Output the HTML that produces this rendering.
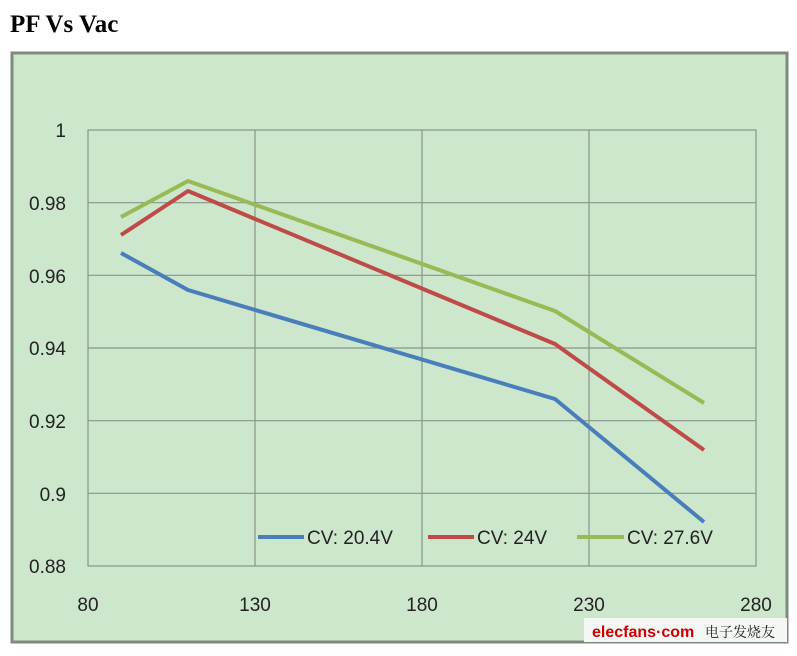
<!DOCTYPE html><html><head><style>body{margin:0;background:#fff;width:797px;height:651px;overflow:hidden}</style></head><body>
<svg width="797" height="651" xmlns="http://www.w3.org/2000/svg" font-family="Liberation Sans, sans-serif">
<text x="10" y="32" font-family="Liberation Serif, serif" font-weight="bold" font-size="25" fill="#000">PF Vs Vac</text>
<rect x="12" y="53" width="775" height="589" fill="#cde7cd" stroke="#7f897f" stroke-width="3"/>
<g stroke="#8a948a" stroke-width="1.2" fill="none">
<rect x="88" y="130" width="668" height="436"/>
<line x1="88" y1="202.7" x2="756" y2="202.7"/><line x1="88" y1="275.3" x2="756" y2="275.3"/>
<line x1="88" y1="348" x2="756" y2="348"/><line x1="88" y1="420.7" x2="756" y2="420.7"/>
<line x1="88" y1="493.3" x2="756" y2="493.3"/>
<line x1="255" y1="130" x2="255" y2="566"/><line x1="422" y1="130" x2="422" y2="566"/><line x1="589" y1="130" x2="589" y2="566"/>
</g>
<g font-size="19" fill="#222" text-anchor="end">
<text x="66" y="137">1</text><text x="66" y="210">0.98</text><text x="66" y="283">0.96</text><text x="66" y="355">0.94</text><text x="66" y="428">0.92</text><text x="66" y="501">0.9</text><text x="66" y="573">0.88</text>
</g>
<g font-size="19" fill="#222" text-anchor="middle">
<text x="88" y="611">80</text><text x="255" y="611">130</text><text x="422" y="611">180</text><text x="589" y="611">230</text><text x="756" y="611">280</text>
</g>
<g fill="none" stroke-width="4" stroke-linejoin="round">
<polyline stroke="#4a7ebb" points="121,253 188,290 555,399 704,522"/>
<polyline stroke="#be4b48" points="121,235 188,191 555,344 704,450"/>
<polyline stroke="#98b954" points="121,217 188,181 555,311 704,403"/>
</g>
<g font-size="19" fill="#222">
<line x1="258" y1="537" x2="304" y2="537" stroke="#4a7ebb" stroke-width="4"/><text x="307" y="544">CV: 20.4V</text>
<line x1="428" y1="537" x2="474" y2="537" stroke="#be4b48" stroke-width="4"/><text x="477" y="544">CV: 24V</text>
<line x1="577" y1="537" x2="624" y2="537" stroke="#98b954" stroke-width="4"/><text x="627" y="544">CV: 27.6V</text>
</g>
<rect x="584" y="618" width="203" height="24" fill="#f4f7f4"/>
<text x="592" y="637" font-size="16" fill="#c00" font-weight="bold">elecfans·com</text>
<text x="705" y="637" font-size="14" fill="#222" font-family="Noto Serif CJK SC, serif">电子发烧友</text>
</svg>
</body></html>
